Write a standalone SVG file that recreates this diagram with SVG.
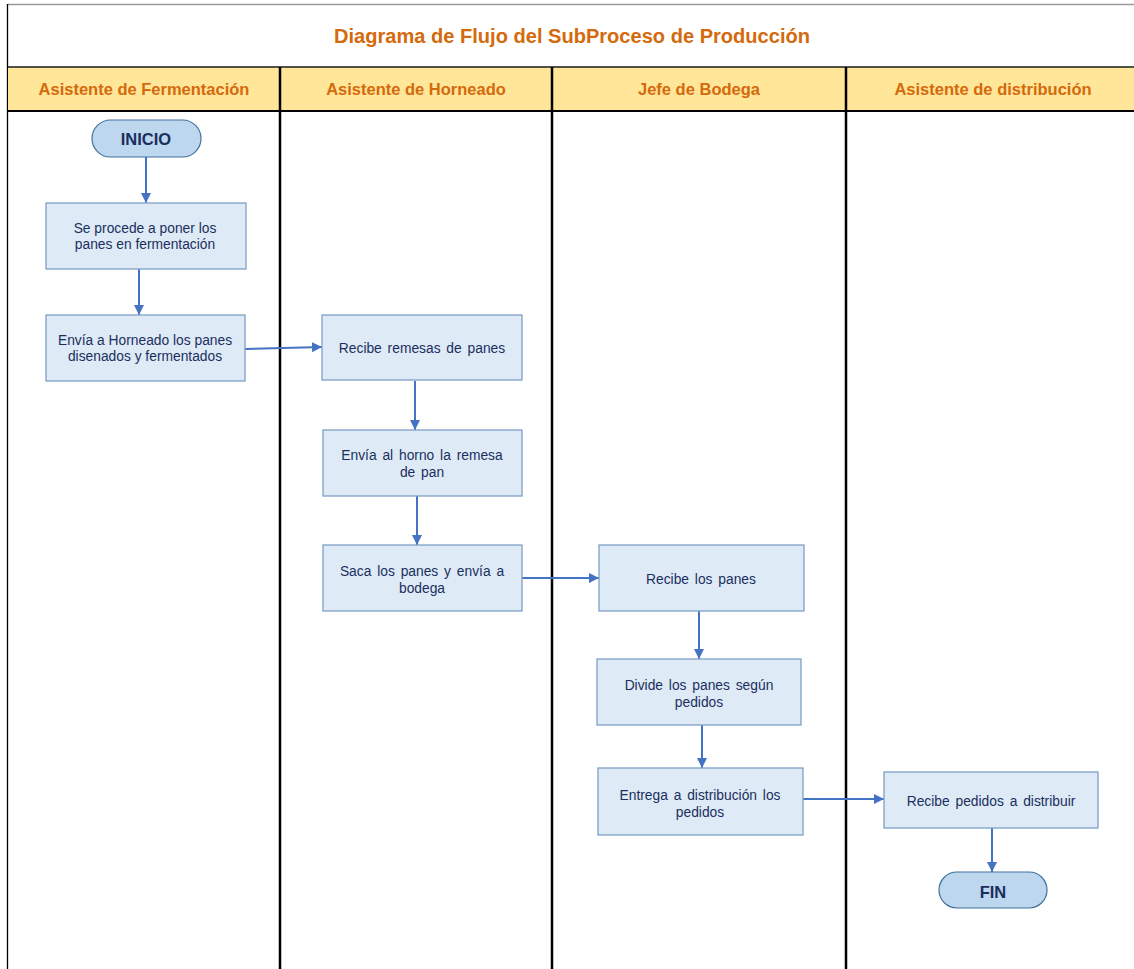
<svg xmlns="http://www.w3.org/2000/svg" width="1134" height="969" viewBox="0 0 1134 969">
  <style>
    .title { font-family: "Liberation Sans", Arial, sans-serif; font-weight: bold; font-size: 20px; fill: #D46A0C; }
    .lane-head { font-family: "Liberation Sans", Arial, sans-serif; font-weight: bold; font-size: 16.5px; fill: #D46A0C; }
    .box { fill: #DEEAF6; stroke: #7F9FC6; stroke-width: 1.3; }
    .term { fill: #BDD7EE; stroke: #41719C; stroke-width: 1.2; }
    .lbl { font-family: "Liberation Sans", Arial, sans-serif; font-size: 13.8px; fill: #1B2F5E; text-anchor: middle; }
    .term-lbl { font-family: "Liberation Sans", Arial, sans-serif; font-weight: bold; font-size: 16.5px; fill: #1B2F5E; text-anchor: middle; }
    .flow { stroke: #4472C4; stroke-width: 2; fill: none; marker-end: url(#arrow); }
    .divider { stroke: #000; stroke-width: 2.5; }
  </style>
  <defs>
    <marker id="arrow" viewBox="0 0 10 10" refX="10" refY="5" markerWidth="5" markerHeight="5" orient="auto" markerUnits="strokeWidth">
      <path d="M0,0 L10,5 L0,10 z" fill="#4472C4"/>
    </marker>
  </defs>

  <rect x="0" y="0" width="1134" height="969" fill="#FFFFFF"/>

  <!-- frame, title band and lane headers -->
  <g id="frame">
    <line x1="8" y1="4.5" x2="1134" y2="4.5" stroke="#9A9A9A" stroke-width="1.5"/>
    <line x1="7.5" y1="4" x2="7.5" y2="969" stroke="#000" stroke-width="1.3"/>
    <rect x="8" y="67" width="1126" height="44" fill="#FFE699"/>
    <line x1="8" y1="67" x2="1134" y2="67" stroke="#1A1A1A" stroke-width="1.5"/>
    <line x1="8" y1="111" x2="1134" y2="111" stroke="#000" stroke-width="2"/>
    <line class="divider" x1="280" y1="67" x2="280" y2="969"/>
    <line class="divider" x1="552" y1="67" x2="552" y2="969"/>
    <line class="divider" x1="846" y1="67" x2="846" y2="969"/>
    <text class="title" x="572" y="43" text-anchor="middle" textLength="476" lengthAdjust="spacingAndGlyphs">Diagrama de Flujo del SubProceso de Producción</text>
    <text class="lane-head" x="144" y="95" text-anchor="middle">Asistente de Fermentación</text>
    <text class="lane-head" x="416" y="95" text-anchor="middle">Asistente de Horneado</text>
    <text class="lane-head" x="699" y="95" text-anchor="middle">Jefe de Bodega</text>
    <text class="lane-head" x="993" y="95" text-anchor="middle">Asistente de distribución</text>
  </g>

  <!-- connectors -->
  <g id="connectors">
    <line class="flow" x1="146" y1="157" x2="146" y2="203"/>
    <line class="flow" x1="139" y1="269" x2="139" y2="315"/>
    <line class="flow" x1="245" y1="349" x2="322" y2="347"/>
    <line class="flow" x1="415" y1="381" x2="415" y2="430"/>
    <line class="flow" x1="417" y1="496" x2="417" y2="545"/>
    <line class="flow" x1="522" y1="578" x2="599" y2="578"/>
    <line class="flow" x1="699" y1="611" x2="699" y2="659"/>
    <line class="flow" x1="702" y1="725" x2="702" y2="768"/>
    <line class="flow" x1="803" y1="799" x2="884" y2="799"/>
    <line class="flow" x1="992" y1="828" x2="992" y2="872"/>
  </g>

  <g id="inicio">
    <rect class="term" x="92" y="120" width="109" height="37" rx="18.5"/>
    <text class="term-lbl" x="146" y="145">INICIO</text>
  </g>

  <g id="poner-fermentacion">
    <rect class="box" x="46" y="203" width="200" height="66"/>
    <text class="lbl" x="145" y="233">Se procede a poner los</text>
    <text class="lbl" x="145" y="249">panes en fermentación</text>
  </g>

  <g id="envia-horneado">
    <rect class="box" x="46" y="315" width="199" height="66"/>
    <text class="lbl" x="145" y="345">Envía a Horneado los panes</text>
    <text class="lbl" x="145" y="361">disenados y fermentados</text>
  </g>

  <g id="recibe-remesas">
    <rect class="box" x="322" y="315" width="200" height="65"/>
    <text class="lbl" x="422" y="353" word-spacing="2">Recibe remesas de panes</text>
  </g>

  <g id="envia-horno">
    <rect class="box" x="323" y="430" width="199" height="66"/>
    <text class="lbl" x="422" y="460" word-spacing="2">Envía al horno la remesa</text>
    <text class="lbl" x="422" y="477" word-spacing="2">de pan</text>
  </g>

  <g id="saca-panes">
    <rect class="box" x="323" y="545" width="199" height="66"/>
    <text class="lbl" x="422" y="576" word-spacing="2">Saca los panes y envía a</text>
    <text class="lbl" x="422" y="593">bodega</text>
  </g>

  <g id="recibe-panes">
    <rect class="box" x="599" y="545" width="205" height="66"/>
    <text class="lbl" x="701" y="584" word-spacing="2">Recibe los panes</text>
  </g>

  <g id="divide-panes">
    <rect class="box" x="597" y="659" width="204" height="66"/>
    <text class="lbl" x="699" y="690" word-spacing="2">Divide los panes según</text>
    <text class="lbl" x="699" y="707">pedidos</text>
  </g>

  <g id="entrega-distribucion">
    <rect class="box" x="598" y="768" width="205" height="67"/>
    <text class="lbl" x="700" y="800" word-spacing="2">Entrega a distribución los</text>
    <text class="lbl" x="700" y="817">pedidos</text>
  </g>

  <g id="recibe-pedidos">
    <rect class="box" x="884" y="772" width="214" height="56"/>
    <text class="lbl" x="991" y="806" word-spacing="2">Recibe pedidos a distribuir</text>
  </g>

  <g id="fin">
    <rect class="term" x="939" y="872" width="108" height="36" rx="18"/>
    <text class="term-lbl" x="993" y="898">FIN</text>
  </g>
</svg>
